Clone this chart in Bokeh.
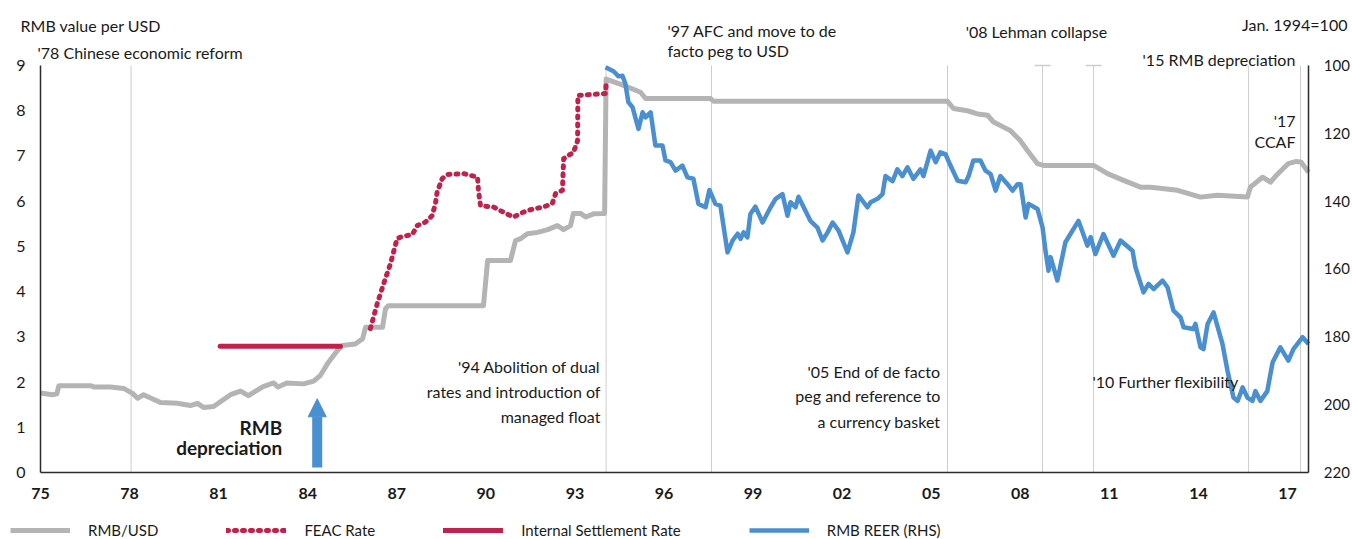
from bokeh.plotting import figure
from bokeh.models import (Range1d, LinearAxis, FixedTicker, Label, Legend,
                          LegendItem, Arrow, NormalHead)
from bokeh.embed import file_html
from bokeh.resources import INLINE

FONT = "Lato"
TXT = "#1a1a1a"
GRAY = "#b4b4b4"
RED = "#c0224b"
BLUE = "#4a8fd0"

# ---------------- data ----------------
usd_years = [1975.00, 1975.40, 1975.55, 1975.62, 1976.70, 1976.80, 1977.35, 1977.80, 1978.10, 1978.27,
             1978.47, 1979.04, 1979.60, 1980.05, 1980.29, 1980.49, 1980.83, 1981.40, 1981.74, 1982.00,
             1982.50, 1982.85, 1983.00, 1983.30, 1983.86, 1984.20, 1984.43, 1984.70, 1985.00, 1985.17,
             1985.60, 1985.85, 1985.95, 1986.52, 1986.62, 1986.72, 1989.92, 1990.06, 1990.83, 1991.00,
             1991.17, 1991.40, 1991.74, 1992.08, 1992.41, 1992.62, 1992.85, 1992.95, 1993.19, 1993.36,
             1993.63, 1994.00, 1994.05, 1994.64, 1995.21, 1995.38, 1997.57, 1997.67, 2005.55, 2005.75,
             2006.22, 2006.56, 2006.90, 2007.10, 2007.67, 2008.00, 2008.24, 2008.58, 2008.78, 2010.47,
             2010.94, 2011.48, 2012.05, 2012.39, 2013.30, 2014.07, 2014.64, 2015.65, 2015.75, 2016.16,
             2016.43, 2016.62, 2017.02, 2017.30, 2017.46, 2017.71]
usd_vals = [1.76, 1.72, 1.74, 1.92, 1.92, 1.89, 1.89, 1.86, 1.75, 1.64,
            1.72, 1.55, 1.53, 1.48, 1.53, 1.44, 1.46, 1.72, 1.80, 1.70,
            1.90, 1.98, 1.89, 1.98, 1.96, 2.02, 2.15, 2.44, 2.70, 2.81,
            2.84, 2.96, 3.21, 3.21, 3.62, 3.69, 3.69, 4.69, 4.69, 5.13,
            5.17, 5.28, 5.31, 5.37, 5.46, 5.37, 5.46, 5.73, 5.73, 5.65,
            5.72, 5.73, 8.70, 8.56, 8.41, 8.27, 8.27, 8.21, 8.21, 8.05,
            8.00, 7.93, 7.90, 7.75, 7.56, 7.34, 7.12, 6.83, 6.79, 6.79,
            6.61, 6.46, 6.31, 6.31, 6.24, 6.09, 6.13, 6.09, 6.31, 6.53,
            6.42, 6.57, 6.83, 6.88, 6.86, 6.64]

feac_years = [1986.11, 1986.34, 1986.56, 1986.79, 1987.01, 1987.18, 1987.52, 1987.69, 1987.97, 1988.19,
              1988.30, 1988.36, 1988.53, 1988.70, 1989.25, 1989.72, 1989.75, 1989.82, 1990.26, 1990.49,
              1990.83, 1990.93, 1991.27, 1991.60, 1991.94, 1992.24, 1992.35, 1992.58, 1992.62, 1992.95,
              1993.09, 1993.10, 1994.03, 1994.06]
feac_vals = [3.18, 3.73, 4.18, 4.62, 5.17, 5.22, 5.26, 5.46, 5.54, 5.68,
             5.94, 6.20, 6.50, 6.59, 6.61, 6.53, 6.24, 5.90, 5.87, 5.79,
             5.68, 5.65, 5.76, 5.83, 5.87, 5.95, 6.17, 6.24, 6.94, 7.08,
             7.34, 8.34, 8.38, 8.67]

isr_years = [1981.05, 1985.10]
isr_vals = [2.79, 2.79]

reer_years = [1994.03, 1994.30, 1994.47, 1994.60, 1994.70, 1994.80, 1994.94, 1995.14, 1995.28, 1995.38,
              1995.55, 1995.71, 1995.95, 1996.05, 1996.22, 1996.39, 1996.62, 1996.79, 1996.99, 1997.16,
              1997.40, 1997.53, 1997.73, 1997.90, 1998.14, 1998.31, 1998.48, 1998.58, 1998.68, 1998.81,
              1998.91, 1999.08, 1999.32, 1999.59, 1999.76, 1999.99, 2000.16, 2000.26, 2000.43, 2000.53,
              2000.93, 2001.17, 2001.34, 2001.51, 2001.68, 2001.88, 2002.18, 2002.38, 2002.55, 2002.85,
              2002.96, 2003.19, 2003.36, 2003.46, 2003.70, 2003.86, 2004.03, 2004.20, 2004.40, 2004.64,
              2004.74, 2004.98, 2005.15, 2005.31, 2005.48, 2005.65, 2005.89, 2006.16, 2006.26, 2006.42,
              2006.66, 2006.83, 2007.00, 2007.17, 2007.33, 2007.57, 2007.74, 2007.91, 2008.01, 2008.18,
              2008.28, 2008.58, 2008.75, 2008.85, 2008.95, 2009.02, 2009.25, 2009.52, 2009.96, 2010.26,
              2010.37, 2010.53, 2010.80, 2011.14, 2011.38, 2011.78, 2011.88, 2012.15, 2012.32, 2012.49,
              2012.79, 2012.96, 2013.16, 2013.40, 2013.50, 2013.83, 2013.90, 2014.07, 2014.17, 2014.31,
              2014.51, 2014.81, 2014.98, 2015.18, 2015.32, 2015.49, 2015.65, 2015.82, 2015.92, 2016.09,
              2016.32, 2016.50, 2016.76, 2017.03, 2017.20, 2017.51, 2017.71]
reer_vals = [100.5, 101.7, 103.2, 103.0, 105.4, 110.8, 112.3, 118.7, 113.8, 115.3,
             113.8, 123.6, 123.6, 128.0, 128.5, 131.0, 129.5, 133.0, 133.4, 140.8,
             141.8, 136.7, 140.8, 141.3, 155.1, 151.6, 149.6, 151.1, 149.2, 150.7,
             143.8, 141.6, 146.3, 141.8, 139.3, 137.9, 144.3, 140.3, 141.8, 138.7,
             145.8, 147.8, 151.6, 149.2, 146.3, 148.7, 155.1, 149.2, 138.3, 141.8,
             140.3, 139.3, 137.9, 132.6, 134.1, 130.6, 132.6, 130.0, 133.4, 130.6,
             132.6, 125.1, 128.5, 125.6, 126.1, 129.5, 134.0, 134.4, 132.6, 128.0,
             128.0, 131.0, 132.0, 136.9, 132.6, 135.0, 136.9, 135.0, 135.0, 144.8,
             140.8, 142.3, 147.7, 154.6, 160.5, 156.5, 163.4, 152.1, 145.8, 153.1,
             150.6, 155.6, 149.7, 156.1, 151.6, 154.6, 159.5, 166.9, 164.4, 165.9,
             163.4, 165.4, 172.3, 174.3, 177.2, 177.7, 176.2, 183.1, 183.6, 176.2,
             172.8, 182.1, 190.0, 197.9, 198.9, 194.9, 197.9, 198.9, 196.0, 198.9,
             196.0, 187.5, 183.1, 187.0, 183.6, 180.1, 182.1]

event_years = [1978.05, 1994.05, 1997.60, 2005.55, 2008.75, 2010.47, 2015.69, 2017.44]
capped_events = [2008.75, 2010.47]

tick_years = [1975, 1978, 1981, 1984, 1987, 1990, 1993, 1996, 1999, 2002, 2005, 2008, 2011, 2014, 2017]
tick_labels = ["75", "78", "81", "84", "87", "90", "93", "96", "99", "02", "05", "08", "11", "14", "17"]
left_ticks = [0, 1, 2, 3, 4, 5, 6, 7, 8, 9]
right_ticks = [100, 120, 140, 160, 180, 200, 220]

X_START, X_END = 1975.0, 2017.72          # extent of the x axis
LEFT_MIN, LEFT_MAX = 0, 9                 # extent of the left axis
RIGHT_TOP, RIGHT_BOTTOM = 100, 220        # extent of the (inverted) right axis

# ---------------- figure ----------------
# The plotting frame covers the whole canvas; the three axes are pinned at fixed
# locations so that annotations and legend outside the axis box stay visible.
p = figure(width=1352, height=539,
           x_range=Range1d(1973.653, 2019.190),
           y_range=Range1d(-1.4816, 10.438),
           output_backend="svg", toolbar_location=None,
           min_border=0, min_border_left=0, min_border_right=0,
           min_border_top=0, min_border_bottom=0)
p.title.visible = False
p.outline_line_color = None
p.xgrid.visible = False
p.ygrid.visible = False
p.extra_y_ranges = {"reer": Range1d(start=239.75, end=80.84)}

# axes
p.xaxis.ticker = FixedTicker(ticks=tick_years)
p.xaxis.major_label_overrides = {y: l for y, l in zip(tick_years, tick_labels)}
p.xaxis.fixed_location = LEFT_MIN
p.xaxis.bounds = (X_START, X_END)
p.yaxis.ticker = FixedTicker(ticks=left_ticks)
p.yaxis.fixed_location = X_START
p.yaxis.bounds = (LEFT_MIN, LEFT_MAX)
right_axis = LinearAxis(y_range_name="reer", ticker=FixedTicker(ticks=right_ticks),
                        bounds=(RIGHT_TOP, RIGHT_BOTTOM), fixed_location=X_END)
p.add_layout(right_axis, "right")

for ax in [p.xaxis[0], p.yaxis[0], right_axis]:
    ax.major_tick_in = 0
    ax.major_tick_out = 0
    ax.minor_tick_in = 0
    ax.minor_tick_out = 0
    ax.axis_line_color = "#2b2b2b"
    ax.axis_line_width = 1.5
    ax.major_label_text_font = FONT
    ax.major_label_text_color = TXT
p.xaxis.major_label_text_font_size = "16px"
p.xaxis.major_label_text_font_style = "bold"
p.xaxis.major_label_standoff = 15
p.yaxis.major_label_text_font_size = "16px"
p.yaxis.major_label_standoff = 15
right_axis.major_label_text_font_size = "15px"
right_axis.major_label_standoff = 15

# event lines
p.segment(x0=event_years, y0=[LEFT_MIN] * len(event_years), x1=event_years,
          y1=[LEFT_MAX] * len(event_years), line_color="#cdcdcd", line_width=1, level="underlay")
p.scatter(x=capped_events, y=[LEFT_MAX] * len(capped_events), marker="dash", size=16,
          line_color="#cdcdcd", line_width=1.5, level="underlay")

# series
r_usd = p.line(usd_years, usd_vals, line_color=GRAY, line_width=5, line_join="round")
r_feac = p.line(feac_years, feac_vals, line_color=RED, line_width=5, line_dash="2 6",
                line_cap="round", line_join="round")
r_isr = p.line(isr_years, isr_vals, line_color=RED, line_width=5, line_cap="round")
r_reer = p.line(reer_years, reer_vals, line_color=BLUE, line_width=4.5, line_join="round",
                y_range_name="reer")

# arrow
p.add_layout(Arrow(end=NormalHead(size=18, fill_color=BLUE, line_color=BLUE),
                   x_start=1984.32, y_start=0.11, x_end=1984.32, y_end=1.63,
                   line_color=BLUE, line_width=10))

# annotations
def lab(x, y, text, align="left", size="16px", style="normal"):
    p.add_layout(Label(x=x, y=y, text=text, text_align=align, text_baseline="middle",
                       text_font=FONT, text_font_size=size, text_font_style=style,
                       text_color=TXT))

lab(1974.33, 9.885, "RMB value per USD")
lab(1974.90, 9.288, "'78 Chinese economic reform")
lab(1996.12, 9.774, "'97 AFC and move to de")
lab(1996.12, 9.332, "facto peg to USD")
lab(2006.16, 9.752, "'08 Lehman collapse")
lab(2019.02, 9.907, "Jan. 1994=100", align="right")
lab(2012.12, 9.133, "'15 RMB depreciation")
lab(2017.27, 7.784, "'17", align="right")
lab(2017.27, 7.320, "CCAF", align="right")
lab(1993.86, 2.344, "'94 Abolition of dual", align="right")
lab(1993.86, 1.791, "rates and introduction of", align="right")
lab(1993.86, 1.238, "managed float", align="right")
lab(2005.31, 2.234, "'05 End of de facto", align="right")
lab(2005.31, 1.703, "peg and reference to", align="right")
lab(2005.31, 1.128, "a currency basket", align="right")
lab(2010.43, 2.012, "'10  Further flexibility")
lab(1983.14, 0.995, "RMB", align="right", size="19px", style="bold")
lab(1983.14, 0.553, "depreciation", align="right", size="19px", style="bold")

# legend along the bottom edge
legend = Legend(items=[LegendItem(label="RMB/USD", renderers=[r_usd]),
                       LegendItem(label="FEAC Rate", renderers=[r_feac]),
                       LegendItem(label="Internal Settlement Rate", renderers=[r_isr]),
                       LegendItem(label="RMB REER (RHS)", renderers=[r_reer])],
                orientation="horizontal", location=(10, 0),
                glyph_width=60, glyph_height=18, label_standoff=18, spacing=68,
                padding=0, margin=0, border_line_color=None, background_fill_alpha=0,
                label_text_font=FONT, label_text_font_size="15px", label_text_color=TXT)
p.add_layout(legend, "center")

open("out.html", "w").write(file_html(p, INLINE))
